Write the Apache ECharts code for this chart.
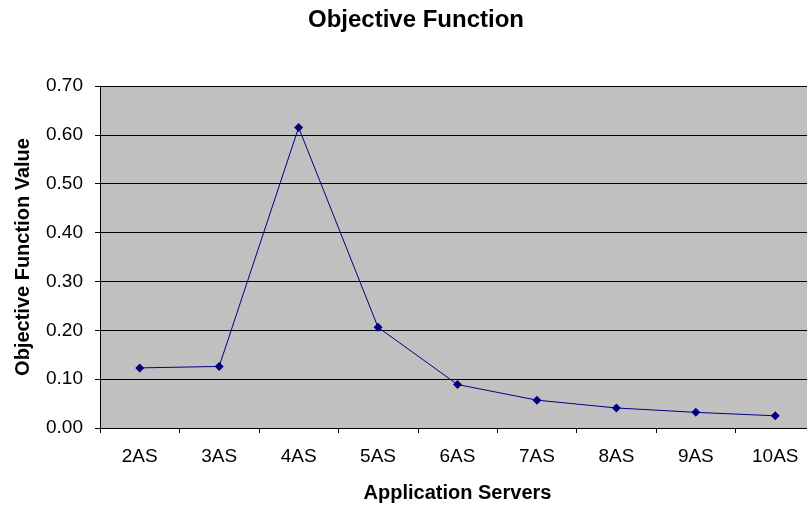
<!DOCTYPE html>
<html><head><meta charset="utf-8">
<script src="https://cdn.jsdelivr.net/npm/echarts@6/dist/echarts.min.js"></script>
<style>html,body{margin:0;padding:0;background:#fff}#c{width:807px;height:505px}</style>
</head><body><div id="c"></div>
<script>
const categories = ['2AS','3AS','4AS','5AS','6AS','7AS','8AS','9AS','10AS'];
const objectiveValues = [0.123, 0.126, 0.615, 0.206, 0.089, 0.057, 0.041, 0.032, 0.025];
const yTicks = [0, 0.1, 0.2, 0.3, 0.4, 0.5, 0.6, 0.7];

const chart = echarts.init(document.getElementById('c'));
chart.setOption({
  animation: false,
  backgroundColor: '#ffffff',
  title: {
    text: 'Objective Function', left: 411, top: 3, textAlign: 'center',
    textStyle: {fontFamily: 'Liberation Sans', fontSize: 24, fontWeight: 'bold', color: '#000'}
  },
  grid: {left: 100, right: -8, top: 86, bottom: 77, outerBoundsMode: 'none', containLabel: false,
    show: true, backgroundColor: '#c0c0c0', borderWidth: 0},
  xAxis: {
    type: 'category', data: categories, boundaryGap: true,
    name: 'Application Servers', nameLocation: 'middle', nameGap: 55,
    nameTextStyle: {fontFamily: 'Liberation Sans', fontSize: 20, fontWeight: 'bold', color: '#000'},
    axisLine: {lineStyle: {color: '#000', width: 1}},
    axisTick: {show: true, length: 5, lineStyle: {color: '#000'}},
    axisLabel: {fontFamily: 'Liberation Sans', fontSize: 19, color: '#000', margin: 19},
    splitLine: {show: false}
  },
  yAxis: {
    type: 'value', min: 0, max: 0.7, interval: 0.1,
    name: 'Objective Function Value', nameLocation: 'middle', nameGap: 67, nameRotate: 90,
    nameTextStyle: {fontFamily: 'Liberation Sans', fontSize: 20, fontWeight: 'bold', color: '#000'},
    axisLine: {show: true, lineStyle: {color: '#000', width: 1}},
    axisTick: {show: true, length: 5, lineStyle: {color: '#000'}},
    axisLabel: {fontFamily: 'Liberation Sans', fontSize: 19, color: '#000', margin: 17,
      formatter: v => { const t = yTicks.find(x => Math.abs(x - v) < 1e-9); return (t !== undefined ? t : v).toFixed(2); }},
    splitLine: {show: true, lineStyle: {color: '#000', width: 1}}
  },
  series: [{
    type: 'line', data: objectiveValues,
    symbol: 'diamond', symbolSize: 9,
    lineStyle: {color: '#000080', width: 1},
    itemStyle: {color: '#000080'}
  }]
});
</script></body></html>
